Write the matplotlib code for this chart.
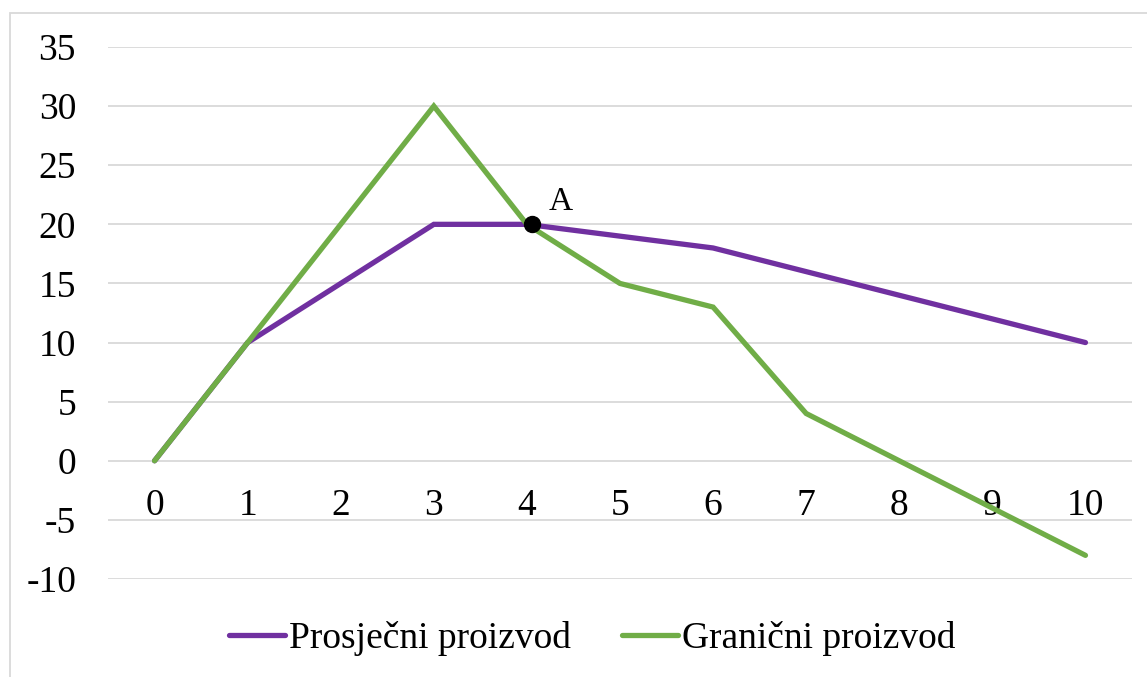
import matplotlib
matplotlib.use('Agg')
import matplotlib.pyplot as plt
from matplotlib.patches import Rectangle

plt.rcParams['font.family'] = ['Liberation Serif', 'DejaVu Serif']
plt.rcParams['axes.unicode_minus'] = False

# data
x_vals = [0, 1, 2, 3, 4, 5, 6, 7, 8, 9, 10]
prosjecni = [0, 10, 15, 20, 20, 19, 18, 16, 14, 12, 10]
granicni = [0, 10, 20, 30, 20, 15, 13, 4, 0, -4, -8]
y_ticks = [-10, -5, 0, 5, 10, 15, 20, 25, 30, 35]
point_a = (4.05, 20)

purple = '#7030A0'
green = '#70AD47'

fig = plt.figure(figsize=(11.47, 6.77), dpi=100)
ax = fig.add_axes([108 / 1147, 1 - 579 / 677, (1132 - 108) / 1147, (579 - 47) / 677])

ax.plot(x_vals, prosjecni, color=purple, lw=3.8, solid_capstyle='round',
        solid_joinstyle='miter', label='Prosječni proizvod', zorder=3)
ax.plot(x_vals, granicni, color=green, lw=3.8, solid_capstyle='round',
        solid_joinstyle='miter', label='Granični proizvod', zorder=3)
ax.plot(*point_a, 'o', color='black', ms=11.5, zorder=4)
ax.annotate('A', point_a, xytext=(21, 16), textcoords='offset points',
            ha='center', va='center', fontsize=24)

ax.set_xlim(-0.5, 10.5)
ax.set_ylim(-10, 35)
ax.set_yticks(y_ticks)
ax.set_xticks(x_vals)
ax.grid(axis='y', color='#d9d9d9', lw=1.3)
ax.set_axisbelow(True)
for s in ax.spines.values():
    s.set_visible(False)
ax.spines['bottom'].set_position(('data', 0))
ax.tick_params(axis='both', length=0, labelsize=27)
ax.tick_params(axis='y', pad=23)
ax.tick_params(axis='x', pad=20)

fig.legend(loc='center', bbox_to_anchor=(592 / 1147, 1 - 639 / 677), ncol=2,
           frameon=False, fontsize=27, handlelength=1.5, handletextpad=0.1,
           columnspacing=1.35)

# border around the chart
fig.patches.append(Rectangle((10 / 1147, -0.01), 1.02, 1 - 13 / 677 + 0.01,
                             transform=fig.transFigure, fill=False,
                             edgecolor='#d9d9d9', lw=1.3))

fig.savefig('out.png', dpi=100)
